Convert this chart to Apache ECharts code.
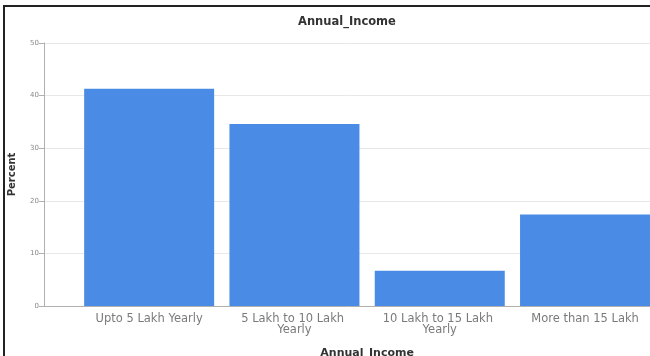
<!DOCTYPE html>
<html>
<head>
<meta charset="utf-8">
<script src="https://cdn.jsdelivr.net/npm/echarts@6/dist/echarts.min.js"></script>
<style>
  html, body { margin: 0; padding: 0; background: #fff; }
  #chart { width: 650px; height: 356px; }
</style>
</head>
<body>
<div id="chart"></div>
<script>
// data
var categories = ['Upto 5 Lakh Yearly', '5 Lakh to 10 Lakh Yearly', '10 Lakh to 15 Lakh Yearly', 'More than 15 Lakh'];
var percentValues = [41.3, 34.6, 6.7, 17.4];
var yTicks = [0, 10, 20, 30, 40, 50];

var myChart = echarts.init(document.getElementById('chart'));

var boldText = { fontWeight: 'bold', color: '#333', fontFamily: 'DejaVu Sans' };

var option = {
    animation: false,
    title: {
        text: 'Annual_Income',
        left: 293,
        top: 11,
        textStyle: Object.assign({ fontSize: 11.5 }, boldText)
    },
    graphic: [{
        type: 'polyline',
        shape: { points: [[4, 400], [4, 6], [700, 6]] },
        style: { fill: null, stroke: '#222', lineWidth: 2 },
        silent: true
    }],
    grid: [
        // grid lines + y axis
        { left: 44, right: -8, top: 43, bottom: 50, outerBoundsMode: 'none', containLabel: false },
        // bars
        { left: 76.5, right: -7.7, top: 43, bottom: 50, outerBoundsMode: 'none', containLabel: false }
    ],
    xAxis: [
        {
            gridIndex: 0,
            type: 'value',
            min: 0,
            max: 1,
            axisLine: { show: true, onZero: false, lineStyle: { color: '#b0b0b0' } },
            axisTick: { show: false },
            axisLabel: { show: false },
            splitLine: { show: false }
        },
        {
            gridIndex: 1,
            type: 'category',
            data: categories,
            name: 'Annual_Income',
            nameLocation: 'middle',
            nameGap: 42,
            nameTextStyle: Object.assign({ fontSize: 11 }, boldText),
            axisLine: { show: false },
            axisTick: { show: false },
            axisLabel: {
                interval: 0,
                margin: 8,
                width: 130,
                overflow: 'break',
                lineHeight: 11,
                fontSize: 11.5,
                color: '#7a7a7a',
                fontFamily: 'DejaVu Sans'
            }
        }
    ],
    yAxis: [
        {
            gridIndex: 0,
            type: 'value',
            min: yTicks[0],
            max: yTicks[yTicks.length - 1],
            interval: 10,
            name: 'Percent',
            nameLocation: 'middle',
            nameGap: 27,
            nameTextStyle: Object.assign({ fontSize: 10 }, boldText),
            axisLine: { show: true, lineStyle: { color: '#b0b0b0' } },
            axisTick: { show: true, length: 5, lineStyle: { color: '#b0b0b0' } },
            axisLabel: { fontSize: 7, color: '#888', margin: 5, fontFamily: 'DejaVu Sans' },
            splitLine: { show: true, lineStyle: { color: '#e8e8e8' } }
        },
        {
            gridIndex: 1,
            type: 'value',
            min: yTicks[0],
            max: yTicks[yTicks.length - 1],
            show: false
        }
    ],
    series: [{
        type: 'bar',
        xAxisIndex: 1,
        yAxisIndex: 1,
        barWidth: 130,
        itemStyle: { color: '#4a8be6' },
        data: percentValues
    }]
};

myChart.setOption(option);
</script>
</body>
</html>
